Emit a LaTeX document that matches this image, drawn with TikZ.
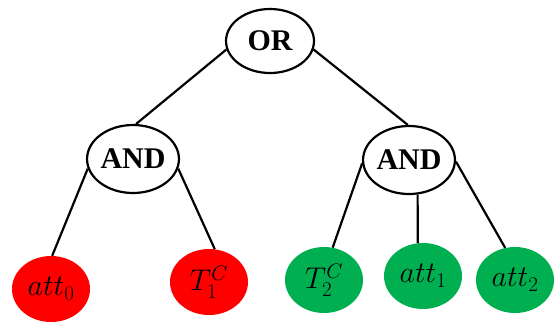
\RequirePackage{fix-cm}
\documentclass[tikz,border=0pt]{standalone}
\usepackage{fontspec}
\setmainfont{Liberation Serif}
\usetikzlibrary{shapes.geometric}
\definecolor{leafred}{RGB}{255,0,0}
\definecolor{leafgreen}{RGB}{0,176,80}
\begin{document}
\begin{tikzpicture}[x=1pt,y=-1pt,
  gate/.style={ellipse,draw=black,line width=2.2pt,fill=white,minimum width=88pt,minimum height=64pt,inner sep=0pt,font=\fontsize{30}{32}\selectfont\bfseries},
  leaf/.style={ellipse,minimum width=78pt,minimum height=66pt,inner sep=0pt,font=\fontsize{30}{32}\selectfont},
  redleaf/.style={leaf,fill=leafred},
  greenleaf/.style={leaf,fill=leafgreen},
  edge/.style={line width=2.2pt}]
\useasboundingbox (0,0) rectangle (559,327);
\node[gate] (or) at (270,41) {OR};
\node[gate,minimum height=68pt] (andL) at (133,159) {AND};
\node[gate,minimum height=68pt] (andR) at (409,160) {AND};
\node[redleaf] (att0) at (51,289) {$att_0$};
\node[redleaf] (t1) at (209,282) {$T_1^C$};
\node[greenleaf] (t2) at (324,280) {$T_2^C$};
\node[greenleaf] (att1) at (423,276) {$att_1$};
\node[greenleaf] (att2) at (515,280) {$att_2$};
\draw[edge] (or.191) -- (andL.85);
\draw[edge] (or.349) -- (andR.92);
\draw[edge] (andL.192) -- (att0.88);
\draw[edge] (andL.348) -- (t1.80);
\draw[edge] (andR.184) -- (t2.75);
\draw[edge] (andR.284) -- (att1.99);
\draw[edge] (andR.358) -- (att2.107);
\end{tikzpicture}
\end{document}
